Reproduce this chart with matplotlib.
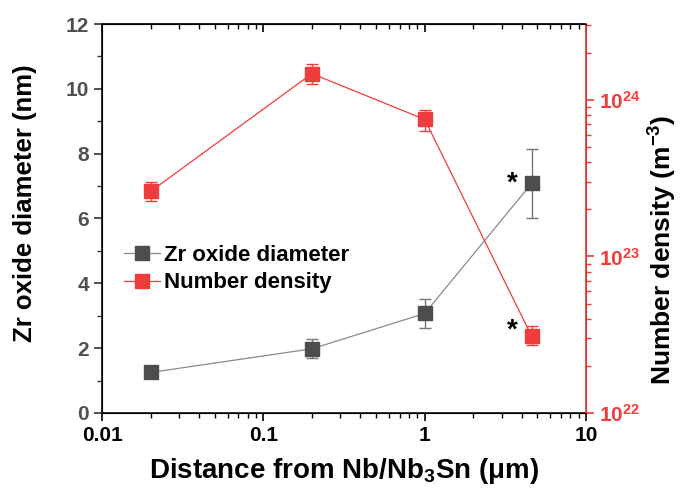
import numpy as np
import matplotlib
matplotlib.use("Agg")
import matplotlib.pyplot as plt
from matplotlib.ticker import MultipleLocator, LogLocator, NullFormatter

plt.rcParams['font.family'] = ['Liberation Sans', 'DejaVu Sans']
plt.rcParams['font.weight'] = 'bold'
plt.rcParams['mathtext.fontset'] = 'custom'
plt.rcParams['mathtext.rm'] = 'Liberation Sans'
plt.rcParams['mathtext.bf'] = 'Liberation Sans:bold'

# data
distance = [0.02, 0.2, 1.0, 4.6]
diameter = [1.25, 1.98, 3.07, 7.08]
diameter_err = [0.12, 0.29, 0.46, 1.07]
density = [2.6e23, 1.47e24, 7.5e23, 3.1e22]
density_lo = [2.27e23, 1.27e24, 6.3e23, 2.7e22]
density_hi = [3.0e23, 1.7e24, 8.6e23, 3.6e22]

x_ticks = [0.01, 0.1, 1, 10]
x_labels = ['0.01', '0.1', '1', '10']
y_ticks = [0, 2, 4, 6, 8, 10, 12]
y2_ticks = [1e22, 1e23, 1e24]
y2_labels = ['$\\mathbf{10^{22}}$', '$\\mathbf{10^{23}}$', '$\\mathbf{10^{24}}$']

gray = '#4d4d4d'
red = '#f03c3c'

fig = plt.figure(figsize=(6.81, 4.92), dpi=100)
ax = fig.add_axes([0.1498, 0.1606, 0.7107, 0.7906])
ax2 = ax.twinx()

# ------------------------------
# left axis: diameter
# ------------------------------
ax.errorbar(distance, diameter, yerr=diameter_err, color='#8a8a8a', lw=0.9,
            marker='s', ms=10.5, mfc=gray, mec=gray, ecolor='#777777',
            elinewidth=1.0, capsize=4, capthick=1.0, zorder=3)
ax.set_xscale('log')
ax.set_xlim(0.01, 10)
ax.set_ylim(0, 12)
ax.set_xticks(x_ticks)
ax.set_xticklabels(x_labels, fontsize=15, fontweight='bold')
ax.xaxis.set_minor_locator(LogLocator(base=10, subs=np.arange(2, 10), numticks=10))
ax.xaxis.set_minor_formatter(NullFormatter())
ax.set_yticks(y_ticks)
ax.set_yticklabels([str(v) for v in y_ticks], fontsize=15, fontweight='bold')
ax.yaxis.set_minor_locator(MultipleLocator(1))
ax.tick_params(axis='x', which='major', direction='out', length=6, width=1.2, top=False)
ax.tick_params(axis='x', which='minor', direction='out', length=3.5, width=1.0, top=False)
ax.tick_params(axis='y', which='major', direction='out', length=6, width=1.2,
               colors='#333333', labelcolor='#505050')
ax.tick_params(axis='y', which='minor', direction='out', length=3.5, width=1.0, colors='#333333')
for s in ['left', 'bottom', 'top']:
    ax.spines[s].set_linewidth(1.3)
    ax.spines[s].set_color('#222222')
ax.set_xlabel('Distance from Nb/Nb$_\\mathbf{3}$Sn (μm)', fontsize=20, fontweight='bold',
              labelpad=8)
ax.set_ylabel('Zr oxide diameter (nm)', fontsize=18.5, fontweight='bold')
ax.yaxis.set_label_coords(-0.135, 0.54)

top = ax.secondary_xaxis('top')
top.set_xticks(x_ticks)
top.xaxis.set_minor_locator(LogLocator(base=10, subs=np.arange(2, 10), numticks=10))
top.xaxis.set_minor_formatter(NullFormatter())
top.tick_params(axis='x', which='major', direction='in', length=6, width=1.2, labeltop=False)
top.tick_params(axis='x', which='minor', direction='in', length=3.5, width=1.0, labeltop=False)
top.spines['top'].set_linewidth(1.3)

# ------------------------------
# right axis: number density
# ------------------------------
yerr = [np.array(density) - np.array(density_lo), np.array(density_hi) - np.array(density)]
ax2.errorbar(distance, density, yerr=yerr, color=red, lw=0.9,
             marker='s', ms=10.5, mfc=red, mec=red, ecolor=red,
             elinewidth=1.0, capsize=4, capthick=1.0, zorder=3)
ax2.set_yscale('log')
ax2.set_ylim(1e22, 3.05e24)
ax2.set_yticks(y2_ticks)
ax2.set_yticklabels(y2_labels, fontsize=15, color=red)
ax2.yaxis.set_minor_locator(LogLocator(base=10, subs=np.arange(2, 10), numticks=10))
ax2.yaxis.set_minor_formatter(NullFormatter())
ax2.tick_params(axis='y', which='major', direction='out', length=6, width=1.2, colors=red)
ax2.tick_params(axis='y', which='minor', direction='out', length=3.5, width=1.0, colors=red)
ax2.spines['right'].set_color(red)
ax2.spines['right'].set_linewidth(1.3)
ax2.set_ylabel('Number density (m$^\\mathbf{-3}$)', fontsize=19, fontweight='bold')
ax2.yaxis.set_label_coords(1.122, 0.42)

# asterisks at the last point
ax.annotate('*', xy=(distance[3], diameter[3]), xytext=(-14, 0), textcoords='offset points',
            ha='center', va='center', fontsize=20, fontweight='bold')
ax2.annotate('*', xy=(distance[3], density[3]), xytext=(-14, 4), textcoords='offset points',
             ha='center', va='center', fontsize=20, fontweight='bold')

# legend
h1 = plt.Line2D([], [], color='#8a8a8a', lw=0.9, marker='s', ms=10.5, mfc=gray, mec=gray)
h2 = plt.Line2D([], [], color=red, lw=0.9, marker='s', ms=10.5, mfc=red, mec=red)
ax2.legend([h1, h2], ['Zr oxide diameter', 'Number density'], loc='center left',
           bbox_to_anchor=(0.027, 0.37), borderaxespad=0, frameon=False,
           handlelength=1.6, handletextpad=0.2, labelspacing=0.3,
           prop={'weight': 'bold', 'size': 16})

fig.savefig('out.png', dpi=100)
